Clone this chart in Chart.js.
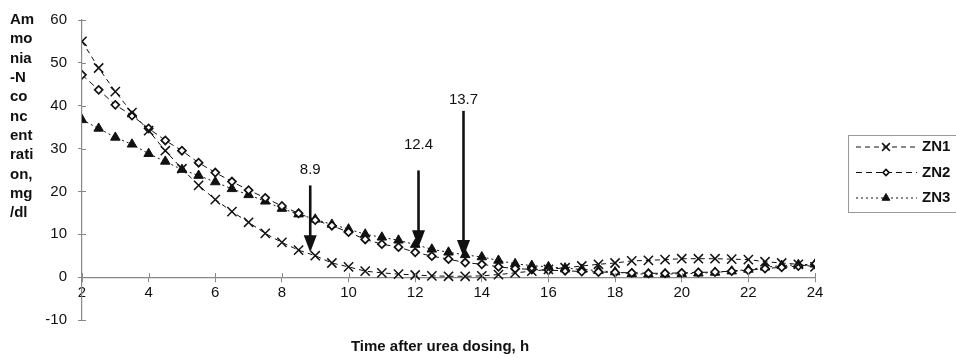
<!DOCTYPE html>
<html>
<head>
<meta charset="utf-8">
<script src="https://cdn.jsdelivr.net/npm/chart.js@4/dist/chart.umd.min.js"></script>
<style>
  body { margin: 0; background: #fff; }
  #wrap { position: relative; width: 956px; height: 358px; }
</style>
</head>
<body>
<div id="wrap"><canvas id="chart"></canvas></div>
<script>
// time after dosing, h
const hours = [2, 2.5, 3, 3.5, 4, 4.5, 5, 5.5, 6, 6.5, 7, 7.5, 8, 8.5, 9, 9.5, 10, 10.5, 11, 11.5,
  12, 12.5, 13, 13.5, 14, 14.5, 15, 15.5, 16, 16.5, 17, 17.5, 18, 18.5, 19, 19.5, 20, 20.5, 21, 21.5,
  22, 22.5, 23, 23.5, 24];

// ammonia-N, mg/dl
const zn1 = [55, 48.8, 43.3, 38.4, 34.2, 29.5, 25.3, 21.4, 18.1, 15.3, 12.8, 10.2, 8.1, 6.3, 5, 3.3,
  2.4, 1.4, 1, 0.7, 0.5, 0.3, 0.2, 0.2, 0.3, 0.6, 1, 1.4, 1.8, 2.2, 2.6, 3, 3.3, 3.8, 3.9, 4.1,
  4.3, 4.3, 4.3, 4.2, 4.1, 3.6, 3.3, 3, 2.4];
const zn2 = [47.2, 43.7, 40.2, 37.7, 34.7, 31.9, 29.5, 26.7, 24.4, 22.3, 20.3, 18.5, 16.6, 14.9, 13.3, 12,
  10.5, 8.8, 7.7, 7, 5.8, 4.9, 4.2, 3.4, 3, 2.4, 2, 1.8, 1.6, 1.5, 1.3, 1.2, 1.1, 1, 0.9, 0.9,
  1, 1.1, 1.2, 1.4, 1.6, 2, 2.3, 2.6, 3];
const zn3 = [36.7, 34.7, 32.6, 31, 28.8, 27, 25.1, 23.7, 22.2, 20.6, 19.2, 17.7, 16, 14.7, 13.5, 12.3,
  11.2, 10, 9.3, 8.6, 7.6, 6.5, 5.8, 5.2, 4.7, 3.9, 3.1, 2.7, 2.4, 2.1, 1.8, 1.5, 1.2, 0.8, 0.7, 0.7,
  0.8, 0.9, 1.1, 1.4, 1.8, 2.3, 2.7, 2.9, 3];

// arrows marked on the chart
const arrowAt = [8.85, 12.1, 13.45];
const arrowFrom = [21.4, 24.9, 38.8];
const arrowTo = [5.8, 7, 4.7];
const arrowText = ["8.9", "12.4", "13.7"];

const yTitle = ["Am", "mo", "nia", "-N", "co", "nc", "ent", "rati", "on,", "mg", "/dl"];
const xTitle = "Time after urea dosing, h";

const FONT = "'Liberation Sans', Arial, sans-serif";

function pts(ys) {
  return hours.map((h, i) => ({ x: h, y: ys[i] }));
}

// arrows with labels
const arrowPlugin = {
  id: "arrows",
  afterDatasetsDraw(chart, args, opts) {
    const { ctx, scales } = chart;
    ctx.save();
    arrowAt.forEach((v, i) => {
      const x = scales.x.getPixelForValue(v);
      const y1 = scales.y.getPixelForValue(arrowFrom[i]);
      const y2 = scales.y.getPixelForValue(arrowTo[i]);
      const head = 17;
      ctx.strokeStyle = "#111";
      ctx.fillStyle = "#111";
      ctx.lineWidth = 2.6;
      ctx.beginPath();
      ctx.moveTo(x, y1);
      ctx.lineTo(x, y2 - head + 2);
      ctx.stroke();
      ctx.beginPath();
      ctx.moveTo(x - 6.5, y2 - head);
      ctx.lineTo(x + 6.5, y2 - head);
      ctx.lineTo(x, y2);
      ctx.closePath();
      ctx.fill();
      ctx.font = "15px " + FONT;
      ctx.textAlign = "center";
      ctx.textBaseline = "middle";
      ctx.fillText(arrowText[i], x, y1 - opts.gaps[i]);
    });
    ctx.restore();
  }
};

// axis titles, inner tick halves and the boxed legend
const decorPlugin = {
  id: "decor",
  afterDraw(chart) {
    const { ctx, chartArea, scales } = chart;
    ctx.save();

    // the ticks cross the axis lines
    ctx.strokeStyle = "#888";
    ctx.lineWidth = 1;
    const y0 = scales.y.getPixelForValue(0);
    scales.x.ticks.forEach(t => {
      const x = Math.round(scales.x.getPixelForValue(t.value)) + 0.5;
      ctx.beginPath(); ctx.moveTo(x, y0 - 4); ctx.lineTo(x, y0); ctx.stroke();
    });
    const x0 = chartArea.left;
    scales.y.ticks.forEach(t => {
      const y = Math.round(scales.y.getPixelForValue(t.value)) + 0.5;
      ctx.beginPath(); ctx.moveTo(x0, y); ctx.lineTo(x0 + 4, y); ctx.stroke();
    });

    ctx.fillStyle = "#111";
    ctx.font = "bold 15px " + FONT;
    ctx.textAlign = "left";
    ctx.textBaseline = "middle";
    yTitle.forEach((t, i) => ctx.fillText(t, 10, 20 + i * 19.3));

    ctx.textAlign = "center";
    ctx.fillText(xTitle, 440, chartArea.bottom + 27);

    // legend
    ctx.strokeStyle = "#999";
    ctx.lineWidth = 1;
    ctx.strokeRect(848.5, 135.5, 120, 77);
    chart.data.datasets.forEach((ds, i) => {
      const y = 147 + i * 25.5;
      ctx.strokeStyle = "#111";
      ctx.lineWidth = 1;
      ctx.setLineDash(ds.borderDash);
      ctx.beginPath();
      ctx.moveTo(856, y);
      ctx.lineTo(917, y);
      ctx.stroke();
      ctx.setLineDash([]);
      ctx.fillStyle = ds.pointBackgroundColor;
      ctx.strokeStyle = ds.pointBorderColor;
      ctx.lineWidth = ds.pointBorderWidth;
      Chart.helpers.drawPoint(ctx, {
        pointStyle: ds.pointStyle, radius: ds.pointRadius - 1,
        borderWidth: ds.pointBorderWidth, rotation: 0
      }, 886, y);
      ctx.fillStyle = "#111";
      ctx.font = "bold 15px " + FONT;
      ctx.textAlign = "left";
      ctx.fillText(ds.label, 922, y);
    });
    ctx.restore();
  }
};

new Chart(document.getElementById("chart"), {
  type: "line",
  data: {
    datasets: [
      {
        label: "ZN1", data: pts(zn1),
        borderColor: "#111", borderWidth: 1, borderDash: [5, 4],
        pointStyle: "crossRot", pointRadius: 6.5, pointBorderWidth: 1.5,
        pointBackgroundColor: "#111", pointBorderColor: "#111"
      },
      {
        label: "ZN2", data: pts(zn2),
        borderColor: "#111", borderWidth: 1, borderDash: [6, 4],
        pointStyle: "rectRot", pointRadius: 4, pointBorderWidth: 1.7,
        pointBackgroundColor: "#fff", pointBorderColor: "#111"
      },
      {
        label: "ZN3", data: pts(zn3),
        borderColor: "#111", borderWidth: 1, borderDash: [2, 3],
        pointStyle: "triangle", pointRadius: 5.5, pointBorderWidth: 1,
        pointBackgroundColor: "#111", pointBorderColor: "#111"
      }
    ]
  },
  options: {
    responsive: true,
    maintainAspectRatio: false,
    animation: false,
    layout: { padding: { left: 34, right: 141, top: 18, bottom: 38 } },
    plugins: {
      legend: { display: false },
      tooltip: { enabled: false },
      arrows: { gaps: [16, 26, 11] }
    },
    scales: {
      x: {
        type: "linear",
        position: { y: 0 },
        min: 2, max: 24,
        ticks: { stepSize: 2, color: "#111", font: { family: FONT, size: 15 }, padding: 3 },
        grid: { drawOnChartArea: false, tickLength: 4, color: "#888" },
        border: { color: "#888", width: 1.2 }
      },
      y: {
        position: "left",
        min: -10, max: 60,
        afterFit(scale) { scale.width = 48; },
        ticks: { stepSize: 10, color: "#111", font: { family: FONT, size: 15 }, padding: 11 },
        grid: { drawOnChartArea: false, tickLength: 4, color: "#888" },
        border: { color: "#888", width: 1.2 }
      }
    }
  },
  plugins: [arrowPlugin, decorPlugin]
});
</script>
</body>
</html>
